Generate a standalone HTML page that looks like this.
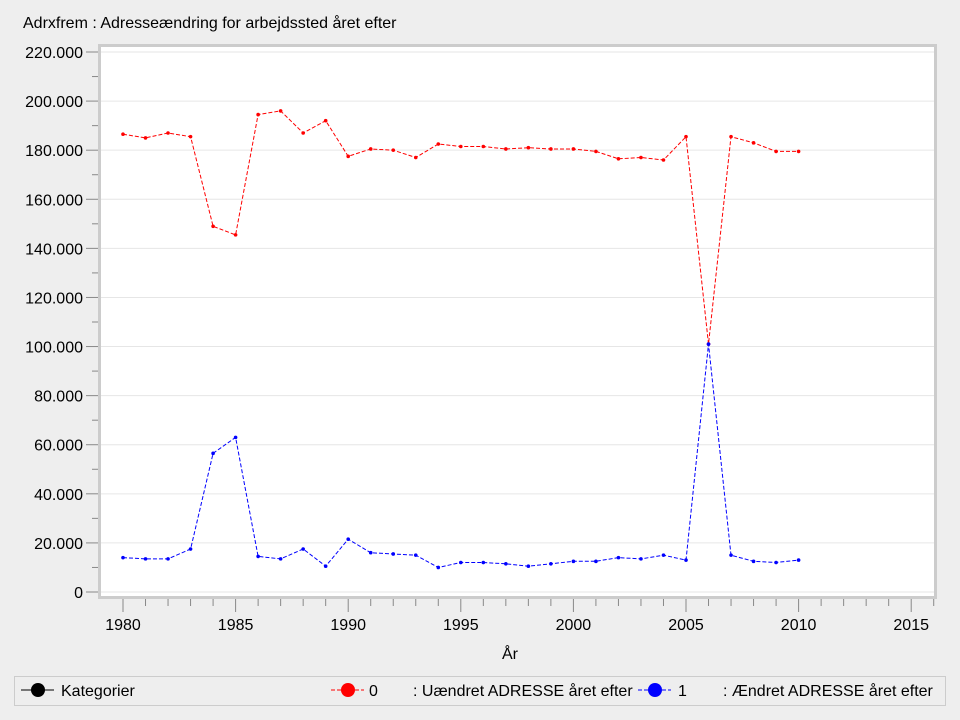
<!DOCTYPE html>
<html><head><meta charset="utf-8"><style>
html,body{margin:0;padding:0;background:#eeeeee;}
svg{display:block;font-family:"Liberation Sans",sans-serif;}
</style></head><body>
<svg id="s" width="960" height="720" xmlns="http://www.w3.org/2000/svg">
<rect width="960" height="720" fill="#eeeeee"/>
<text x="23" y="28" font-size="16" fill="#000">Adrxfrem : Adresseændring for arbejdssted året efter</text>
<rect x="99.5" y="45.5" width="836" height="552" fill="#fff" stroke="#cccccc" stroke-width="3"/>
<g id="g"></g>
<text x="510" y="659" font-size="16" text-anchor="middle">År</text>
<rect x="14.5" y="676.5" width="931" height="29" fill="none" stroke="#cccccc"/>
<line x1="21" y1="690" x2="54" y2="690" stroke="#000"/>
<circle cx="38" cy="690" r="7" fill="#000"/>
<text x="61" y="696" font-size="16">Kategorier</text>
<line x1="331" y1="690" x2="364" y2="690" stroke="#f00" stroke-dasharray="4,2"/>
<circle cx="348" cy="690" r="7" fill="#f00"/>
<text x="369" y="696" font-size="16">0</text>
<text x="413" y="696" font-size="16">: Uændret ADRESSE året efter</text>
<line x1="638" y1="690" x2="671" y2="690" stroke="#00f" stroke-dasharray="4,2"/>
<circle cx="655" cy="690" r="7" fill="#00f"/>
<text x="678" y="696" font-size="16">1</text>
<text x="723" y="696" font-size="16">: Ændret ADRESSE året efter</text>
</svg>
<script>
var g=document.getElementById('g'),h='';
function Y(v){return 592-v*(540/220000);}
function X(y){return 123+(y-1980)*22.52;}
for(var v=0;v<=220000;v+=10000){var y=Y(v);
 if(v%20000==0){ h+='<line x1="101" x2="934" y1="'+y+'" y2="'+y+'" stroke="#e6e6e6"/>';
  h+='<line x1="86" x2="98" y1="'+y+'" y2="'+y+'" stroke="#888"/>';
  var t=v==0?'0':(v/1000)+'.000';
  h+='<text x="83" y="'+(y+6)+'" font-size="16" text-anchor="end">'+t+'</text>';}
 else h+='<line x1="92" x2="98" y1="'+y+'" y2="'+y+'" stroke="#888"/>';}
for(var yr=1980;yr<=2016;yr++){var x=X(yr);
 if(yr%5==0){h+='<line x1="'+x+'" x2="'+x+'" y1="599" y2="612" stroke="#888"/>';
  h+='<text x="'+x+'" y="630" font-size="16" text-anchor="middle">'+yr+'</text>';}
 else h+='<line x1="'+x+'" x2="'+x+'" y1="599" y2="606" stroke="#888"/>';}
var r=[186.5,185,187,185.5,149,145.5,194.5,196,187,192,177.5,180.5,180,177,182.5,181.5,181.5,180.5,181,180.5,180.5,179.5,176.5,177,176,185.5,101,185.5,183,179.5,179.5];
var b=[14,13.5,13.5,17.5,56.5,63,14.5,13.5,17.5,10.5,21.5,16,15.5,15,10,12,12,11.5,10.5,11.5,12.5,12.5,14,13.5,15,13,101,15,12.5,12,13];
function ser(d,c){var p=d.map(function(v,i){return X(1980+i).toFixed(1)+','+Y(v*1000).toFixed(1);}).join(' ');
 var s='<polyline points="'+p+'" fill="none" stroke="'+c+'" stroke-width="1" stroke-dasharray="4,2"/>';
 d.forEach(function(v,i){s+='<circle cx="'+X(1980+i)+'" cy="'+Y(v*1000)+'" r="1.8" fill="'+c+'"/>';});return s;}
h+=ser(r,'#f00')+ser(b,'#00f');
g.innerHTML=h;
</script>
</body></html>
